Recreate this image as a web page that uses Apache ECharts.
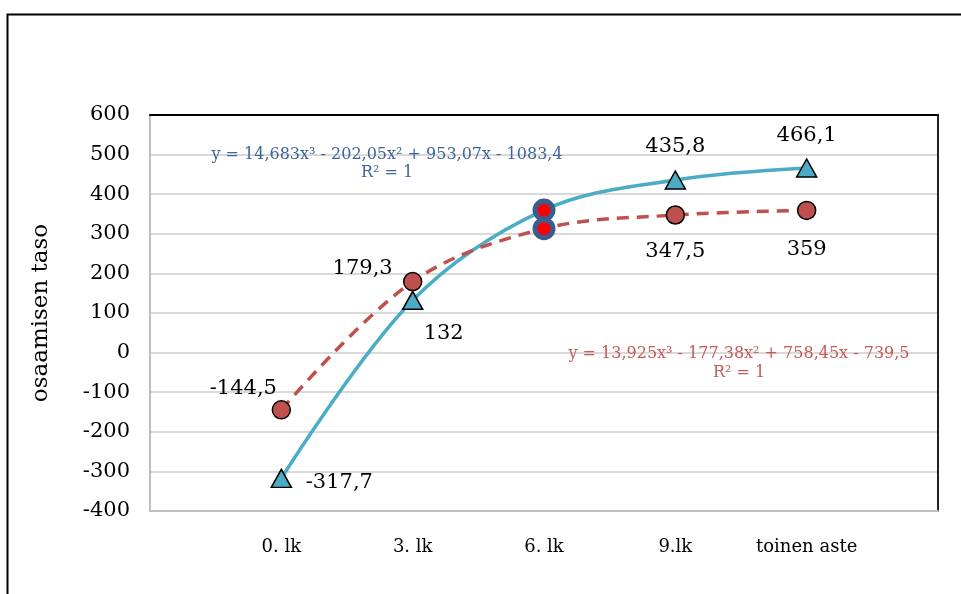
<!DOCTYPE html>
<html>
<head>
<meta charset="utf-8">
<script src="https://cdn.jsdelivr.net/npm/echarts@6/dist/echarts.min.js"></script>
<style>
html,body{margin:0;padding:0;background:#fff;}
#chart{width:961px;height:594px;}
</style>
</head>
<body>
<div id="chart"></div>
<script>
// ---- data ----
const categories = ['0. lk', '3. lk', '6. lk', '9.lk', 'toinen aste'];
const blueValues = [-317.7, 132, 360, 435.8, 466.1];
const redValues = [-144.5, 179.3, 313, 347.5, 359];
const blueLabels = ['-317,7', '132', '', '435,8', '466,1'];
const redLabels = ['-144,5', '179,3', '', '347,5', '359'];
const highlightIndex = 2;
const yTicks = [-400, -300, -200, -100, 0, 100, 200, 300, 400, 500, 600];
const blueEquation = ['y = 14,683x³ - 202,05x² + 953,07x - 1083,4', 'R² = 1'];
const redEquation = ['y = 13,925x³ - 177,38x² + 758,45x - 739,5', 'R² = 1'];

// ---- chart ----
const FONT = 'DejaVu Serif';
const BLUE = '#4BACC6';
const RED = '#C0504D';
const blueOffsets = [[58, 4], [31, 33], [0, 0], [0, -33], [0, -32]];
const redOffsets = [[-38, -21], [-50, -13], [0, 0], [0, 37], [0, 39]];

function pts(vals) { return vals.map((v, i) => [i + 1, v]); }
function markerData(vals, labels, offsets) {
  const out = [];
  vals.forEach((v, i) => {
    if (i === highlightIndex) return;
    out.push({
      value: [i + 1, v],
      label: { show: true, formatter: labels[i], position: 'inside', offset: offsets[i] }
    });
  });
  return out;
}

const labelStyle = { fontFamily: FONT, fontSize: 21, color: '#000', align: 'center', verticalAlign: 'middle' };
const eqFont = '16px "DejaVu Serif"';

const chart = echarts.init(document.getElementById('chart'), null, { renderer: 'canvas' });
chart.setOption({
  animation: false,
  backgroundColor: '#fff',
  grid: { left: 150, right: 23, top: 115, bottom: 83 },
  xAxis: [{
    type: 'value', min: 0, max: 6, interval: 1,
    axisLine: { show: true, onZero: false, lineStyle: { color: '#BFBFBF', width: 2 } },
    axisTick: { show: false },
    splitLine: { show: false },
    axisLabel: {
      margin: 27, fontFamily: FONT, fontSize: 18, color: '#000',
      formatter: v => (v >= 1 && v <= categories.length) ? categories[v - 1] : ''
    }
  }, {
    type: 'value', min: 0, max: 6, position: 'top',
    axisLine: { show: true, onZero: false, lineStyle: { color: '#000', width: 2 } },
    axisTick: { show: false }, axisLabel: { show: false }, splitLine: { show: false }
  }],
  yAxis: [{
    type: 'value', min: yTicks[0], max: yTicks[yTicks.length - 1], interval: 100,
    name: 'osaamisen taso', nameLocation: 'middle', nameGap: 97, nameRotate: 90,
    nameTextStyle: { fontFamily: FONT, fontSize: 23, color: '#000' },
    axisLine: { show: true, onZero: false, lineStyle: { color: '#BFBFBF', width: 2 } },
    axisTick: { show: false },
    splitLine: { show: true, lineStyle: { color: '#D9D9D9', width: 2 } },
    axisLabel: { margin: 20, fontFamily: FONT, fontSize: 21, color: '#000' }
  }, {
    type: 'value', min: yTicks[0], max: yTicks[yTicks.length - 1], position: 'right',
    axisLine: { show: true, onZero: false, lineStyle: { color: '#222', width: 2 } },
    axisTick: { show: false }, axisLabel: { show: false }, splitLine: { show: false }
  }],
  graphic: [
    { type: 'rect', left: 5, top: 12, shape: { width: 1000, height: 700 }, style: { fill: 'none', stroke: '#000', lineWidth: 2 }, silent: true, z: 100 },
    { type: 'text', x: 387, y: 155, style: { text: blueEquation[0], font: eqFont, fill: '#3F649A', textAlign: 'center', textVerticalAlign: 'middle' }, z: 50 },
    { type: 'text', x: 387, y: 173, style: { text: blueEquation[1], font: eqFont, fill: '#3F649A', textAlign: 'center', textVerticalAlign: 'middle' }, z: 50 },
    { type: 'text', x: 739, y: 354, style: { text: redEquation[0], font: eqFont, fill: '#C55A57', textAlign: 'center', textVerticalAlign: 'middle' }, z: 50 },
    { type: 'text', x: 739, y: 373, style: { text: redEquation[1], font: eqFont, fill: '#C55A57', textAlign: 'center', textVerticalAlign: 'middle' }, z: 50 }
  ],
  series: [
    {
      type: 'line', data: pts(blueValues), smooth: 0.35, symbol: 'none',
      lineStyle: { color: BLUE, width: 3.5 }, z: 2, silent: true
    },
    {
      type: 'line', data: pts(redValues), smooth: 0.35, symbol: 'none',
      lineStyle: { color: RED, width: 3.5, type: [12, 8] }, z: 2, silent: true
    },
    {
      type: 'scatter', data: markerData(blueValues, blueLabels, blueOffsets),
      symbol: 'triangle', symbolSize: [20, 18],
      itemStyle: { color: BLUE, borderColor: '#000', borderWidth: 1.5, opacity: 1 },
      label: labelStyle, z: 5
    },
    {
      type: 'scatter', data: markerData(redValues, redLabels, redOffsets),
      symbol: 'circle', symbolSize: 18,
      itemStyle: { color: RED, borderColor: '#000', borderWidth: 1.5, opacity: 1 },
      label: labelStyle, z: 5
    },
    {
      type: 'scatter',
      data: [[highlightIndex + 1, blueValues[highlightIndex]], [highlightIndex + 1, redValues[highlightIndex]]],
      symbol: 'circle', symbolSize: 18,
      itemStyle: { color: '#FF0000', borderColor: '#3B5C8E', borderWidth: 5, opacity: 1 },
      z: 6
    }
  ]
});
</script>
</body>
</html>
